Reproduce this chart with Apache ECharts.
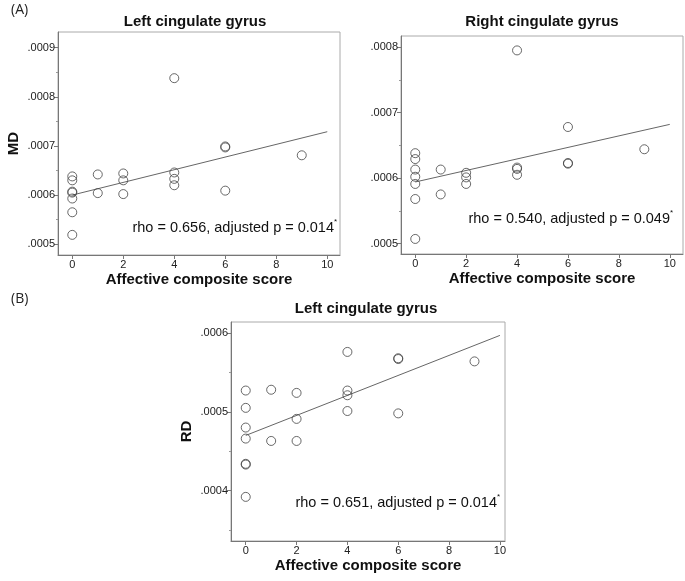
<!DOCTYPE html>
<html>
<head>
<meta charset="utf-8">
<script src="https://cdn.jsdelivr.net/npm/echarts@6/dist/echarts.min.js"></script>
<style>
html,body{margin:0;padding:0;background:#fff;}
#chart{width:685px;height:581px;}
</style>
</head>
<body>
<div id="chart"></div>
<script>
// ---- data ----
const scores = [0,0,0,0,0,0,0, 1,1, 2,2,2, 4,4,4,4, 6,6,6, 9];
const mdLeft  = [0.000638,0.000630,0.000607,0.000605,0.000593,0.000565,0.000519, 0.000642,0.000604, 0.000644,0.000630,0.000602, 0.000838,0.000646,0.000633,0.000620, 0.000699,0.000697,0.000609, 0.000681];
const mdRight = [0.000638,0.000629,0.000613,0.000602,0.000591,0.000568,0.000507, 0.000613,0.000575, 0.000608,0.000601,0.000591, 0.000795,0.000616,0.000614,0.000605, 0.000678,0.000623,0.000622, 0.000644];
const rdLeft  = [0.000527,0.000505,0.000480,0.000466,0.000434,0.000433,0.000392, 0.000528,0.000463, 0.000524,0.000491,0.000463, 0.000576,0.000527,0.000521,0.000501, 0.000568,0.000567,0.000498, 0.000564];
const fitX = [0, 10];
const mdLeftFit  = [0.000600, 0.000729];
const mdRightFit = [0.000594, 0.000682];
const rdLeftFit  = [0.000470, 0.000597];
const xTicks = [0, 2, 4, 6, 8, 10];
const mdLeftTicks  = [0.0005, 0.0006, 0.0007, 0.0008, 0.0009];
const mdLeftMinor  = [0.00055, 0.00065, 0.00075, 0.00085];
const mdRightTicks = [0.0005, 0.0006, 0.0007, 0.0008];
const mdRightMinor = [0.00055, 0.00065, 0.00075];
const rdLeftTicks  = [0.0004, 0.0005, 0.0006];
const rdLeftMinor  = [0.00035, 0.00045, 0.00055];
const panelTitles = ['Left cingulate gyrus', 'Right cingulate gyrus', 'Left cingulate gyrus'];
const yTitles = ['MD', '', 'RD'];
const xTitle = 'Affective composite score';
const stats = ['rho = 0.656, adjusted p = 0.014', 'rho = 0.540, adjusted p = 0.049', 'rho = 0.651, adjusted p = 0.014'];

// ---- layout ----
const FONT = '"Liberation Sans", Arial, sans-serif';
const grids = [
  {left: 58, top: 32, width: 282, height: 223},
  {left: 401, top: 36, width: 282, height: 218},
  {left: 231, top: 322, width: 274, height: 219}
];
const xRanges = [[-0.56, 10.5], [-0.56, 10.52], [-0.58, 10.2]];
const yRanges = [[0.000478, 0.000932], [0.000484, 0.000817], [0.000336, 0.000614]];
const majors = [mdLeftTicks, mdRightTicks, rdLeftTicks];
const minors = [mdLeftMinor, mdRightMinor, rdLeftMinor];
const ys = [mdLeft, mdRight, rdLeft];
const fits = [mdLeftFit, mdRightFit, rdLeftFit];

const fmt = v => {
  const s = (+v).toFixed(4);
  return s.replace(/^0/, '');
};

const option = {
  animation: false,
  backgroundColor: '#fff',
  grid: grids.map(g => Object.assign({show: true, borderColor: '#aaa', borderWidth: 1, backgroundColor: 'transparent'}, g)),
  xAxis: grids.map((g, i) => ({
    type: 'value', gridIndex: i, min: xRanges[i][0], max: xRanges[i][1],
    name: xTitle, nameLocation: 'middle', nameGap: 17,
    nameTextStyle: {fontFamily: FONT, fontSize: 15, fontWeight: 'bold', color: '#111'},
    axisLine: {show: true, onZero: false, lineStyle: {color: '#777', width: 1}},
    axisTick: {show: true, customValues: xTicks, length: 4, lineStyle: {color: '#777'}},
    axisLabel: {customValues: xTicks, fontFamily: FONT, fontSize: 11, color: '#222', margin: 4},
    splitLine: {show: false}
  })),
  yAxis: [],
  series: [],
  graphic: []
};

grids.forEach((g, i) => {
  option.yAxis.push({
    type: 'value', gridIndex: i, min: yRanges[i][0], max: yRanges[i][1],
    name: yTitles[i], nameLocation: 'middle', nameGap: 37, nameRotate: 90,
    nameTextStyle: {fontFamily: FONT, fontSize: 15, fontWeight: 'bold', color: '#111'},
    axisLine: {show: true, onZero: false, lineStyle: {color: '#777', width: 1}},
    axisTick: {show: true, customValues: majors[i], length: 4, lineStyle: {color: '#777'}},
    axisLabel: {customValues: majors[i], formatter: fmt, fontFamily: FONT, fontSize: 11, color: '#222', margin: 3},
    splitLine: {show: false}
  });
});
grids.forEach((g, i) => {
  option.yAxis.push({
    type: 'value', gridIndex: i, min: yRanges[i][0], max: yRanges[i][1], position: 'left',
    axisLine: {show: false, onZero: false},
    axisTick: {show: true, customValues: minors[i], length: 2, lineStyle: {color: '#999'}},
    axisLabel: {show: false},
    splitLine: {show: false}
  });
});

grids.forEach((g, i) => {
  option.series.push({
    type: 'scatter', xAxisIndex: i, yAxisIndex: i,
    data: scores.map((x, k) => [x, ys[i][k]]),
    symbol: 'circle', symbolSize: 9,
    itemStyle: {color: 'rgba(0,0,0,0)', borderColor: '#444', borderWidth: 1},
    z: 3
  });
  option.series.push({
    type: 'line', xAxisIndex: i, yAxisIndex: i,
    data: fitX.map((x, k) => [x, fits[i][k]]),
    symbol: 'none', lineStyle: {color: '#666', width: 1}, z: 2
  });
});

// panel titles
const titlePos = [[195, 22], [542, 22], [366, 309]];
titlePos.forEach((p, i) => {
  option.graphic.push({type: 'text', x: p[0], y: p[1], style: {
    text: panelTitles[i], fontFamily: FONT, fontSize: 15, fontWeight: 'bold', fill: '#111',
    textAlign: 'center', textVerticalAlign: 'middle'}});
});
// stats annotations
const statPos = [[338, 228], [674, 219], [501, 503]];
statPos.forEach((p, i) => {
  option.graphic.push({type: 'text', x: p[0] - 4, y: p[1], style: {
    text: stats[i], fontFamily: FONT, fontSize: 14.5, fill: '#111',
    textAlign: 'right', textVerticalAlign: 'middle'}});
  option.graphic.push({type: 'text', x: p[0] - 4, y: p[1] - 6, style: {
    text: '*', fontFamily: FONT, fontSize: 8, fill: '#111',
    textAlign: 'left', textVerticalAlign: 'middle'}});
});
// panel letters
option.graphic.push({type: 'text', left: 11, top: 3, style: {text: '(A)', fontFamily: '"Open Sans", sans-serif', fontSize: 14, fill: '#222'}});
option.graphic.push({type: 'text', left: 11, top: 292, style: {text: '(B)', fontFamily: '"Open Sans", sans-serif', fontSize: 14, fill: '#222'}});

const chart = echarts.init(document.getElementById('chart'), null, {renderer: 'canvas'});
chart.setOption(option);
</script>
</body>
</html>
